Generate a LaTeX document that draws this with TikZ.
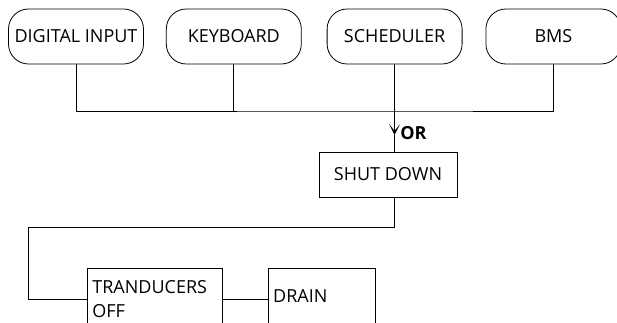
\documentclass[tikz,border=0pt]{standalone}
\usepackage{fontspec}
\setmainfont{Open Sans}
\usetikzlibrary{positioning, arrows.meta}

\begin{document}
\begin{tikzpicture}[x=1pt, y=1pt,
        source/.style={rectangle, draw=black, rounded corners=20pt, minimum width=135pt, minimum height=55pt, inner sep=2pt, font=\fontsize{18}{22}\selectfont},
        action/.style={rectangle, draw=black, minimum height=45pt, inner sep=4pt, font=\fontsize{18}{22}\selectfont},
        stage/.style={rectangle, draw=black, anchor=north west, minimum height=62pt, inner sep=5pt, align=left, font=\fontsize{18}{24}\selectfont},
        arrow/.style={-{Stealth[length=11pt, width=11pt, inset=7pt]}},
        line width=0.8pt
    ]
        \useasboundingbox (0,0) rectangle (617,-323);
        \clip (0,0) rectangle (617,-323);

        \node[source] (din) at (76,-36.5) {DIGITAL INPUT};
        \node[source, right=22pt of din] (kbd) {KEYBOARD};
        \node[source, right=25pt of kbd] (sched) {SCHEDULER};
        \node[source, right=23pt of sched] (bms) {BMS};

        \coordinate (bus) at (sched.south |- 0,-111);
        \coordinate (ortip) at (sched.south |- 0,-135);
        \node[font=\bfseries\fontsize{18}{22}\selectfont, right=2pt of ortip, yshift=2pt] (or) {OR};

        \node[action, minimum width=138pt] (shut) at (388,-174.5) {SHUT DOWN};

        \coordinate (bend) at (28,-227);
        \node[stage, text width=125pt] (trans) at (87,-268) {TRANDUCERS\\OFF};
        \node[stage, text width=97pt, right=45pt of trans.north east, anchor=north west] (drain) {\raisebox{7pt}{DRAIN}};

        \draw (din.south) |- (bus) -| (bms.south);
        \draw (kbd.south) -- (kbd.south |- bus);
        \draw[arrow] (sched.south) -- (ortip);
        \draw (ortip) -- (ortip |- shut.north);
        \draw (ortip |- shut.south) |- (bend) |- (trans.west);
        \draw (trans.east) -- (drain.west);
    \end{tikzpicture}
\end{document}
